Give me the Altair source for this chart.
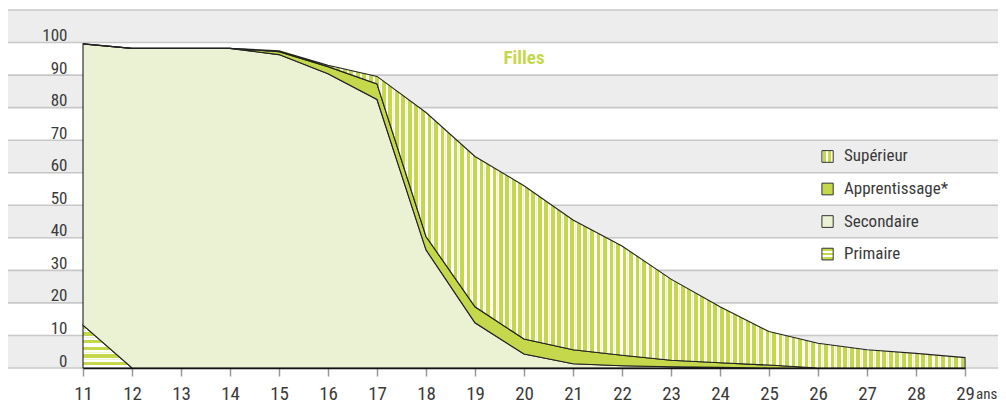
import altair as alt
import pandas as pd

# ---- data (percent of girls by education level, by age) ----
ages = list(range(11, 30))
primaire      = [13.2, 0, 0, 0, 0, 0, 0, 0, 0, 0, 0, 0, 0, 0, 0, 0, 0, 0, 0]
secondaire    = [86.4, 98.2, 98.2, 98.2, 96.3, 90.4, 82.5, 36.3, 13.9, 4.3, 1.3, 0.7, 0.4, 0.2, 0, 0, 0, 0, 0]
apprentissage = [0, 0, 0, 0, 0.9, 2.2, 4.8, 4.1, 4.9, 4.6, 4.3, 3.2, 2.0, 1.4, 0.9, 0, 0, 0, 0]
superieur     = [0, 0, 0, 0, 0.3, 0.4, 2.3, 38.1, 46.2, 47.1, 39.9, 33.6, 24.9, 17.2, 10.3, 7.6, 5.6, 4.5, 3.2]

legend_labels = ["Supérieur", "Apprentissage*", "Secondaire", "Primaire"]
legend_rows = [65, 55, 45, 35]
y_ticks = list(range(0, 101, 10))
grid_values = list(range(0, 111, 10))
band_starts = [0, 20, 40, 60, 80, 100]
title_text = "Filles"
unit_text = "ans"

# ---- styles ----
FONT = "Liberation Sans Narrow, Roboto Condensed, Liberation Sans, sans-serif"
GREEN = "#c5d84b"
LIGHT = "#eaf2d3"
BAND = "#ededed"
GRID = "#c8c8c8"
TXT = "#3a3a3a"
W, H = 990, 358


def stripes(period_frac, pattern, vertical=True):
    stops = []
    pos = 0.0
    while pos < 1.0:
        for color, frac in pattern:
            end = min(1.0, pos + frac * period_frac)
            stops.append({"offset": round(pos, 5), "color": color})
            stops.append({"offset": round(end, 5), "color": color})
            pos = end
            if pos >= 1.0:
                break
    g = {"gradient": "linear", "stops": stops}
    if vertical:
        g.update({"x1": 0, "y1": 0, "x2": 1, "y2": 0})
    else:
        g.update({"x1": 0, "y1": 0, "x2": 0, "y2": 1})
    return g


sup_fill = stripes(6.5 / 882, [(GREEN, 0.58), ("#ffffff", 0.17), ("#eef4cf", 0.08), ("#ffffff", 0.17)], True)
prim_fill = stripes(7.3 / 43, [(GREEN, 0.48), ("#ffffff", 0.22), ("#eef4cf", 0.1), ("#ffffff", 0.2)], False)
sup_swatch = stripes(1.0 / 2.2, [("#ffffff", 0.25), (GREEN, 0.5), ("#ffffff", 0.25)], True)
prim_swatch = stripes(1.0 / 2.6, [(GREEN, 0.55), ("#ffffff", 0.45)], False)

c1 = list(primaire)
c2 = [a + b for a, b in zip(c1, secondaire)]
c3 = [a + b for a, b in zip(c2, apprentissage)]
c4 = [a + b for a, b in zip(c3, superieur)]
df = pd.DataFrame({"age": ages, "c0": [0] * len(ages), "c1": c1, "c2": c2, "c3": c3, "c4": c4})

xscale = alt.Scale(domain=[11, 29], range=[75, 957], nice=False, zero=False)
yscale = alt.Scale(domain=[0, 110], nice=False)

x_axis = alt.Axis(
    values=ages, title=None, grid=False, zindex=1,
    domainColor="#111111", domainWidth=1.6,
    tickColor="#999999", tickSize=8, tickWidth=1.5,
    labelFont=FONT, labelFontSize=19, labelColor=TXT, labelPadding=8,
    labelFlush=False, labelOverlap=False,
)
y_axis = alt.Axis(
    values=y_ticks, title=None, grid=False, domain=False, ticks=False, tickSize=0, zindex=1,
    labelFont=FONT, labelFontSize=17, labelColor=TXT, labelPadding=-59,
    labelAlign="right", labelBaseline="alphabetic", labelOffset=-2,
)


def X(field):
    return alt.X(field, scale=xscale, axis=x_axis)


def Y(field):
    return alt.Y(field, scale=yscale, axis=y_axis)


bands = alt.Chart(pd.DataFrame({"y0": band_starts, "y1": [b + 10 for b in band_starts]})).mark_rect(
    color=BAND
).encode(
    x=alt.value(0), x2=alt.value(W),
    y=Y("y0:Q"), y2="y1:Q",
)

grid = alt.Chart(pd.DataFrame({"g": grid_values})).mark_rule(color=GRID, strokeWidth=1.6).encode(
    x=alt.value(0), x2=alt.value(W),
    y=Y("g:Q"),
)

base = alt.Chart(df)
STROKE = dict(stroke="#222222", strokeWidth=1.1, strokeJoin="miter")

prim = base.mark_area(fill=prim_fill, **STROKE).encode(x=X("age:Q"), y=Y("c0:Q"), y2="c1:Q")
sec = base.mark_area(fill=LIGHT, **STROKE).encode(x=X("age:Q"), y=Y("c1:Q"), y2="c2:Q")
app = base.mark_area(fill=GREEN, **STROKE).encode(x=X("age:Q"), y=Y("c2:Q"), y2="c3:Q")
sup = base.mark_area(fill=sup_fill, **STROKE).encode(x=X("age:Q"), y=Y("c3:Q"), y2="c4:Q")

# legend (drawn in data space)
leg_df = pd.DataFrame({"label": legend_labels, "row": legend_rows})
leg_df["x0"] = 26.08
leg_df["x1"] = 26.31
leg_df["xt"] = 26.53
leg_df["ylo"] = leg_df["row"] - 1.8
leg_df["yhi"] = leg_df["row"] + 1.8
swatch_fills = [sup_swatch, GREEN, LIGHT, prim_swatch]
swatches = []
for i, f in enumerate(swatch_fills):
    swatches.append(
        alt.Chart(leg_df.iloc[[i]]).mark_rect(fill=f, stroke="#333333", strokeWidth=1).encode(
            x=X("x0:Q"), x2="x1:Q", y=Y("ylo:Q"), y2="yhi:Q",
        )
    )
leg_text = alt.Chart(leg_df).mark_text(
    align="left", baseline="middle", font=FONT, fontSize=17, color=TXT
).encode(x=X("xt:Q"), y=Y("row:Q"), text="label:N")

title = alt.Chart(pd.DataFrame({"t": [title_text], "x": [20.0], "y": [95.3]})).mark_text(
    font=FONT, fontSize=19, fontWeight="bold", color=GREEN, align="center", baseline="middle"
).encode(x=X("x:Q"), y=Y("y:Q"), text="t:N")

# unit after the last tick label ("29 ans")
unit = alt.Chart(pd.DataFrame({"t": [unit_text], "x": [29], "y": [-9.5]})).mark_text(
    font=FONT, fontSize=15, color=TXT, align="left", baseline="alphabetic", dx=11, clip=False
).encode(x=X("x:Q"), y=Y("y:Q"), text="t:N")

chart = alt.layer(bands, grid, prim, sec, app, sup, *swatches, leg_text, title, unit).properties(
    width=W, height=H,
    autosize=alt.AutoSizeParams(type="none"),
    padding={"left": 0, "top": 2, "right": 0, "bottom": 35},
).configure_view(stroke=None)

chart.save("out.html", embed_options={"renderer": "svg", "actions": False})
